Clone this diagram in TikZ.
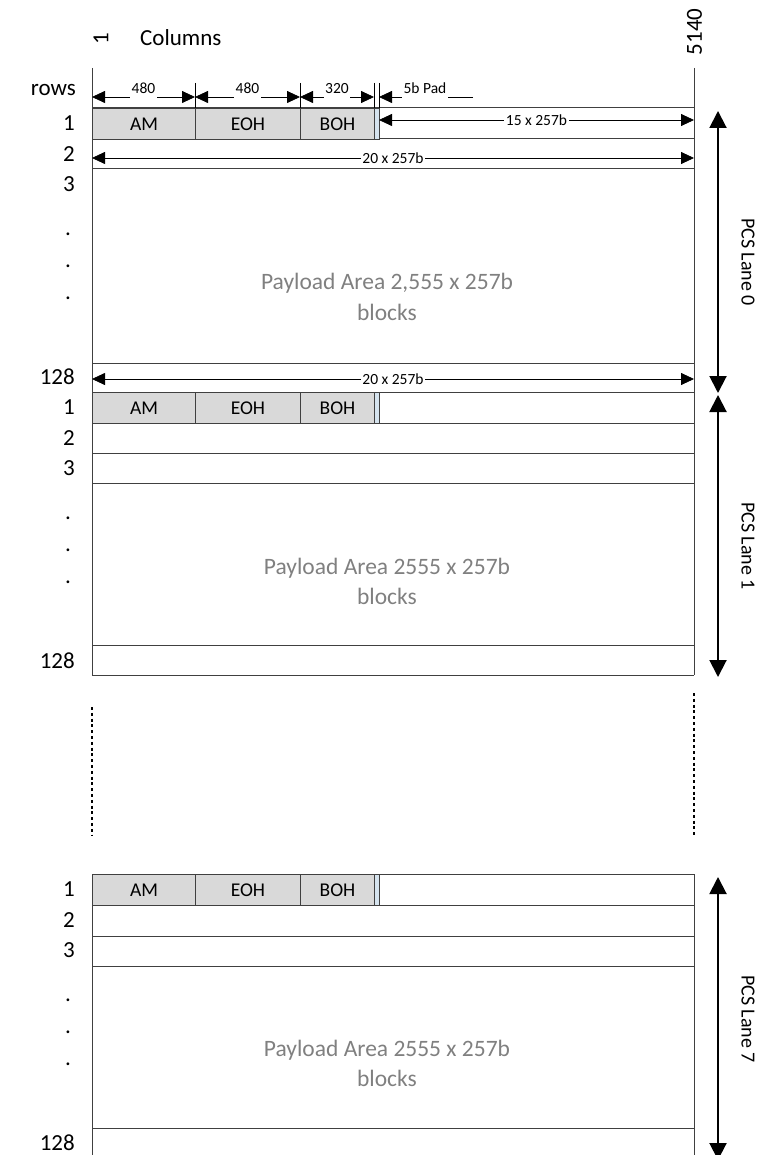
\documentclass[tikz,border=0pt]{standalone}
\usepackage{fontspec}
\setmainfont{Carlito}
\usetikzlibrary{arrows.meta}
\definecolor{cellgray}{HTML}{D9D9D9}
\definecolor{padblue}{HTML}{D5E3EE}
\definecolor{boxline}{HTML}{404040}
\definecolor{paytext}{HTML}{808080}
\newcommand\hdrrow[2]{%
  \node[cell, minimum width=103pt, anchor=north west] (am#1) at (92,#2) {AM};
  \node[cell, minimum width=105pt, anchor=north west] (eoh#1) at (195,#2) {EOH};
  \node[cell, minimum width=74pt, anchor=north west] (boh#1) at (300,#2) {BOH};
  \node[padcell, anchor=north west] (pad#1) at (374,#2) {};
}
\begin{document}
\begin{tikzpicture}[x=1pt,y=-1pt,
  lbl/.style={font=\fontsize{23}{27}\selectfont, inner sep=0pt},
  rowlbl/.style={lbl, anchor=east},
  dotlbl/.style={lbl},
  cell/.style={draw=boxline, line width=1pt, fill=cellgray, minimum height=31pt, inner sep=0pt, font=\fontsize{19.5}{23}\selectfont},
  padcell/.style={draw=boxline, line width=0.8pt, fill=padblue, minimum height=31pt, minimum width=5pt, inner sep=0pt},
  frame/.style={draw=boxline, line width=1pt},
  dimtxt/.style={font=\fontsize{15.5}{18}\selectfont, fill=white, inner xsep=1.5pt, inner ysep=0.5pt},
  hdrtxt/.style={font=\fontsize{15.5}{18}\selectfont, fill=white, inner xsep=1.5pt, inner ysep=4pt, anchor=base},
  paytxt/.style={font=\fontsize{23.5}{30}\selectfont, text=paytext, inner sep=0pt, anchor=base},
  lanetxt/.style={font=\fontsize{20}{24}\selectfont, rotate=-90, inner sep=0pt},
  dimarrow/.style={draw=black, line width=0.8pt, {Triangle[length=13pt,width=12pt]}-{Triangle[length=13pt,width=12pt]}},
  dimend/.style={draw=black, line width=0.8pt, -{Triangle[length=13pt,width=12pt]}},
  tick/.style={draw=black, line width=0.8pt},
  lanearrow/.style={draw=black, line width=2pt, {Triangle[length=17pt,width=17pt]}-{Triangle[length=17pt,width=17pt]}},
  dotline/.style={draw=black, line width=1.3pt, dash pattern=on 3pt off 2.8pt},
]
\useasboundingbox (0,0) rectangle (777,1155);

% ---------- header ----------
\node[lbl, rotate=90] (colone) at (101,39) {1};
\node[lbl, anchor=base west] (columns) at (140,46) {Columns};
\node[lbl, rotate=90] (colend) at (694.5,32) {5140};
\node[lbl, anchor=base east] (rows) at (76,96) {rows};

% ---------- frames lanes 0 and 1 ----------
\coordinate (lt) at (92,68);   \coordinate (lb) at (92,675);
\coordinate (rt) at (694,68);  \coordinate (rb) at (694,675);
\draw[frame] (lt) -- (lb);
\draw[frame] (rt) -- (rb);
\foreach \yy in {108,139,169,363,392,423,453,483,645,675}
  \draw[frame] (92,\yy) -- (694,\yy);

% ---------- frame lane 7 ----------
\coordinate (lt7) at (92,874);   \coordinate (lb7) at (92,1160);
\coordinate (rt7) at (694,874);  \coordinate (rb7) at (694,1160);
\draw[frame] (lt7) -- (lb7);
\draw[frame] (rt7) -- (rb7);
\foreach \yy in {874,905,936,966,1128}
  \draw[frame] (92,\yy) -- (694,\yy);

% ---------- header rows ----------
\hdrrow{0}{108}
\hdrrow{1}{392}
\hdrrow{7}{874}

% ---------- dimension marks ----------
\foreach \xx in {195,300,374,379}
  \draw[tick] (\xx,83) -- (\xx,108);
\coordinate (c0) at (92,97);
\coordinate (c1) at (195,97);
\coordinate (c2) at (300,97);
\coordinate (c3) at (374,97);
\coordinate (c4) at (379,97);
\coordinate (c5) at (473,97);
\draw[dimarrow] (c0) -- (c1);
\draw[dimarrow] (c1) -- (c2);
\draw[dimarrow] (c2) -- (c3);
\draw[dimend] (c5) -- (c4);
\node[hdrtxt] (w1) at (143.5,94) {480};
\node[hdrtxt] (w2) at (247.5,94) {480};
\node[hdrtxt] (w3) at (337,94) {320};
\node[hdrtxt] (w4) at (425,94) {5b Pad};

\coordinate (r1a) at (379,120); \coordinate (r1b) at (694,120);
\draw[dimarrow] (r1a) -- (r1b);
\node[dimtxt] (r1t) at (536.5,120) {15 x 257b};
\coordinate (r2a) at (92,158); \coordinate (r2b) at (694,158);
\draw[dimarrow] (r2a) -- (r2b);
\node[dimtxt] (r2t) at (393,158) {20 x 257b};
\coordinate (r3a) at (92,379); \coordinate (r3b) at (694,379);
\draw[dimarrow] (r3a) -- (r3b);
\node[dimtxt] (r3t) at (393,379) {20 x 257b};

% ---------- row labels ----------
\foreach \T/\s in {108/a,392/b,874/c}{
  \node[rowlbl] (one\s) at (75,\T+15.5) {1};
  \node[rowlbl] (two\s) at (75,\T+46) {2};
  \node[rowlbl] (three\s) at (75,\T+76) {3};
  \node[dotlbl] (da\s) at (68,\T+126) {.};
  \node[dotlbl] (db\s) at (68,\T+158) {.};
  \node[dotlbl] (dc\s) at (68,\T+190) {.};
  \node[rowlbl] (last\s) at (75,\T+268.5) {128};
}

% ---------- payload texts ----------
\node[paytxt] (p0a) at (387,290) {Payload Area 2,555 x 257b};
\node[paytxt] (p0b) at (387,320) {blocks};
\node[paytxt] (p1a) at (387,574) {Payload Area 2555 x 257b};
\node[paytxt] (p1b) at (387,604) {blocks};
\node[paytxt] (p7a) at (387,1056) {Payload Area 2555 x 257b};
\node[paytxt] (p7b) at (387,1086) {blocks};

% ---------- gap (dotted) ----------
\coordinate (gl1) at (92,707);  \coordinate (gl2) at (92,835);
\coordinate (gr1) at (694,693); \coordinate (gr2) at (694,835);
\draw[dotline] (gl1) -- (gl2);
\draw[dotline] (gr1) -- (gr2);

% ---------- lane arrows ----------
\coordinate (a0t) at (718,111); \coordinate (a0b) at (718,393);
\coordinate (a1t) at (718,395); \coordinate (a1b) at (718,677);
\coordinate (a7t) at (718,877); \coordinate (a7b) at (718,1160);
\draw[lanearrow] (a0t) -- (a0b);
\draw[lanearrow] (a1t) -- (a1b);
\draw[lanearrow] (a7t) -- (a7b);
\node[lanetxt] (lane0) at (748,262) {PCS Lane 0};
\node[lanetxt] (lane1) at (748,546) {PCS Lane 1};
\node[lanetxt] (lane7) at (748,1019) {PCS Lane 7};
\end{tikzpicture}
\end{document}
